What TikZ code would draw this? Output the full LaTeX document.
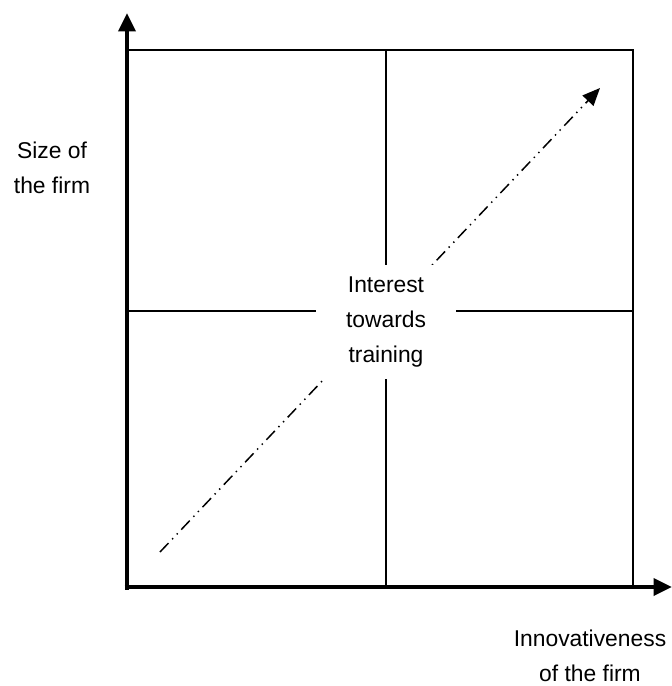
\documentclass[tikz,border=0pt]{standalone}
\usepackage{fontspec}
\setmainfont{Liberation Sans}
\usetikzlibrary{arrows.meta}

\tikzset{
  axis/.style={line width=2.8pt, -{Triangle[length=10.5pt,width=9.5pt]}},
  cell line/.style={line width=0.9pt},
  label text/.style={align=center, inner sep=0pt, font=\fontsize{13}{20}\selectfont},
  trend/.style={line width=0.85pt,
    dash pattern=on 7pt off 3pt on 0.8pt off 3pt on 0.8pt off 3pt,
    -{Triangle[length=10pt,width=8.5pt]}}
}

\begin{document}
\begin{tikzpicture}[x=0.02cm, y=-0.02cm]
\useasboundingbox (0,0) rectangle (672,686);

\coordinate (ybase) at (127,589.5);
\coordinate (ytip) at (127,13);
\coordinate (xbase) at (124.5,587);
\coordinate (xtip) at (672,587);

% the four cells
\draw[cell line] (127,50) rectangle (633,587);
\draw[cell line] (386,50) -- (386,587);
\draw[cell line] (127,311) -- (633,311);

% growth line through the middle
\coordinate (low) at (160,552);
\coordinate (high) at (600,88);
\draw[trend] (low) -- (high);

\node[label text, fill=white, minimum width=2.8cm, minimum height=2.3cm] (centre) at (386,322) {Interest\\towards\\training};

% axes
\draw[axis] (ybase) -- (ytip);
\draw[axis] (xbase) -- (xtip);

\node[label text] (ylabel) at (52,168) {Size of\\the firm};
\node[label text] (xlabel) at (590,656) {Innovativeness\\of the firm};

\end{tikzpicture}
\end{document}
